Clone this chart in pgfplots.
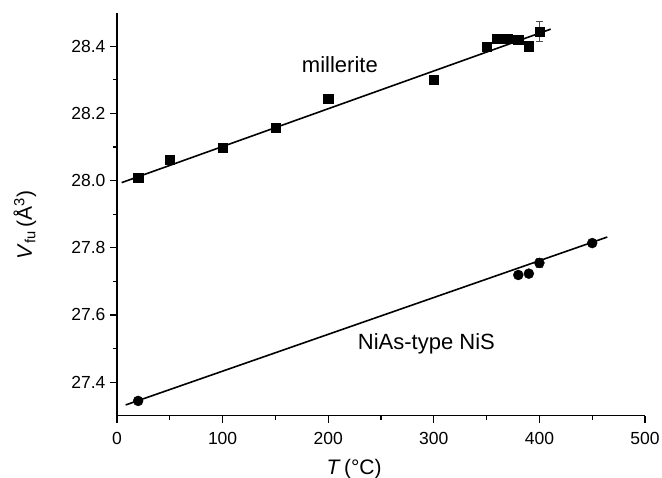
\documentclass[border=0pt]{standalone}
\usepackage{pgfplots}
\pgfplotsset{compat=1.18}
\usepackage{fontspec}
\setmainfont{Liberation Sans}
\begin{document}
\begin{tikzpicture}
\begin{axis}[
  name=ax,
  scale only axis, width=528pt, height=403pt,
  xmin=0, xmax=500, ymin=27.3, ymax=28.5,
  axis x line*=bottom, axis y line*=left,
  axis line style={line width=1.5pt},
  xtick={0,100,...,500}, ytick={27.4,27.6,27.8,28.0,28.2,28.4},
  minor x tick num=1, minor y tick num=1,
  tick align=outside,
  major tick length=7pt, minor tick length=4pt,
  every tick/.style={line width=1.2pt, black},
  /pgf/number format/assume math mode=true,
  yticklabel style={/pgf/number format/fixed, /pgf/number format/fixed zerofill, /pgf/number format/precision=1, xshift=-1pt},
  xticklabel style={/pgf/number format/fixed, /pgf/number format/precision=0, yshift=-6pt},
  tick label style={font=\fontsize{17.5}{19}\selectfont},
  xlabel={\textit{T}\,(°C)},
  ylabel={\textit{V}\textsubscript{fu}\,(Å\textsuperscript{3})},
  label style={font=\fontsize{21}{24}\selectfont},
  xlabel style={at={(axis description cs:0.449,0)}, anchor=base, yshift=-59pt},
  ylabel style={at={(axis description cs:-0.161,0.473)}, anchor=base},
  clip=false,
]
% millerite fit
\addplot[black, line width=1.6pt] coordinates {(4.4,27.994) (410.7,28.451)};
% NiS fit
\addplot[black, line width=1.6pt] coordinates {(8.2,27.332) (464.3,27.832)};
% millerite data
\addplot[only marks, mark=square*, mark size=4.6pt, black,
  error bars/.cd, y dir=both, y explicit,
  error bar style={line width=0.6pt, black!70},
  error mark options={rotate=90, mark size=3.5pt, line width=0.6pt, black!70}]
  coordinates {
  (20,28.008) +- (0,0)
  (50,28.063) +- (0,0)
  (100,28.098) +- (0,0)
  (150,28.158) +- (0,0)
  (200,28.245) +- (0,0)
  (300,28.300) +- (0,0)
  (350,28.399) +- (0,0)
  (360,28.423) +- (0,0)
  (370,28.423) +- (0,0)
  (380,28.420) +- (0,0)
  (390,28.400) +- (0,0)
  (400,28.444) +- (0,0.030)
  };
% NiS data
\addplot[only marks, mark=*, mark size=5pt, black,
  error bars/.cd, y dir=both, y explicit,
  error bar style={line width=0.6pt, black!70},
  error mark options={rotate=90, mark size=3.5pt, line width=0.6pt, black!70}]
  coordinates {
  (20,27.344) +- (0,0.004)
  (380,27.719) +- (0,0.010)
  (390,27.723) +- (0,0)
  (400,27.755) +- (0,0.013)
  (450,27.814) +- (0,0.008)
  };
\node[anchor=base west, font=\fontsize{22}{24}\selectfont, inner sep=0pt] at (axis cs:175,28.322) {millerite};
\node[anchor=base west, font=\fontsize{22}{24}\selectfont, inner sep=0pt] at (axis cs:228,27.496) {NiAs-type NiS};
\end{axis}
\pgfresetboundingbox
\path[use as bounding box] ([shift={(-117pt,-62.3pt)}]ax.south west) rectangle ([shift={(17pt,12.7pt)}]ax.north east);
\end{tikzpicture}
\end{document}
